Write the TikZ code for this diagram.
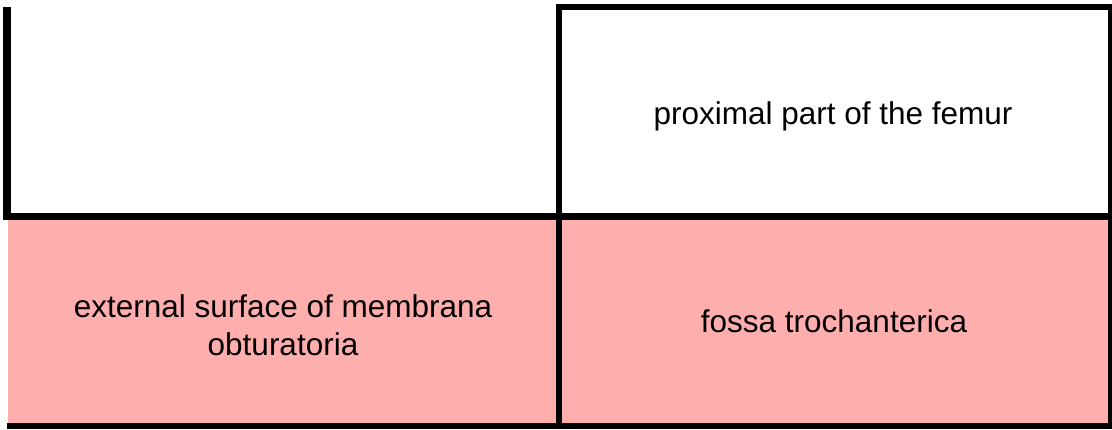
\documentclass[tikz,border=0pt]{standalone}
\usepackage{fontspec}
\setmainfont{Liberation Sans}
\definecolor{cellpink}{RGB}{255,174,174}
\begin{document}
\begin{tikzpicture}[x=1pt,y=-1pt,
  celltext/.style={font=\fontsize{31.5}{38}\selectfont, inner sep=0pt, align=center, text=black},
  rule/.style={fill=black}]
\useasboundingbox (0,0) rectangle (1112,430);
% pink bottom row
\fill[cellpink] (8,220) rectangle (1108,423);
% borders
\fill[rule] (3,7) rectangle (11,220);        % left border of top-left cell
\fill[rule] (556,4) rectangle (1112,10);     % top border of top-right cell
\fill[rule] (556,4) rectangle (562,429);     % middle vertical
\fill[rule] (1108,4) rectangle (1112,429);   % right border
\fill[rule] (3,213) rectangle (1112,220);    % middle horizontal
\fill[rule] (7,423) rectangle (1112,429);    % bottom border
% texts
\node[celltext, anchor=base] (femur) at (833,125) {proximal part of the femur};
\node[celltext, anchor=center] (membrana) at (283,325) {external surface of membrana\\obturatoria};
\node[celltext, anchor=base] (fossa) at (834,333) {fossa trochanterica};
\end{tikzpicture}
\end{document}
